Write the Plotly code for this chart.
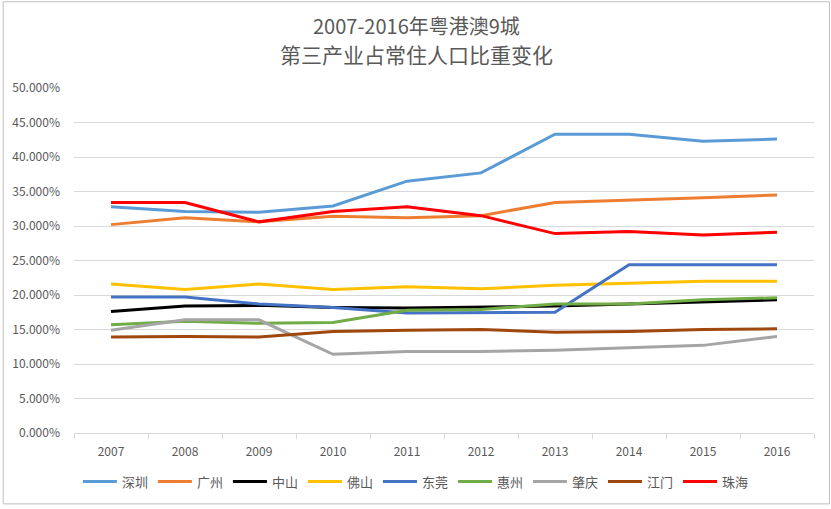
import plotly.graph_objects as go

years = ["2007", "2008", "2009", "2010", "2011", "2012", "2013", "2014", "2015", "2016"]
names = ["深圳", "广州", "中山", "佛山", "东莞", "惠州", "肇庆", "江门", "珠海"]
colors = ["#5B9BD5", "#ED7D31", "#000000", "#FFC000", "#4472C4", "#70AD47", "#A5A5A5", "#9E480E", "#FF0000"]

shenzhen = [32.8, 32.1, 32.0, 32.9, 36.5, 37.7, 43.3, 43.3, 42.3, 42.6]
guangzhou = [30.2, 31.2, 30.6, 31.4, 31.2, 31.5, 33.4, 33.7, 34.1, 34.5]
zhongshan = [17.6, 18.4, 18.5, 18.2, 18.1, 18.2, 18.4, 18.7, 19.0, 19.3]
foshan = [21.6, 20.8, 21.6, 20.8, 21.2, 20.9, 21.4, 21.7, 22.0, 22.0]
dongguan = [19.7, 19.7, 18.7, 18.2, 17.4, 17.5, 17.5, 24.4, 24.4, 24.4]
huizhou = [15.7, 16.2, 15.9, 16.0, 17.8, 17.9, 18.7, 18.7, 19.3, 19.6]
zhaoqing = [14.9, 16.4, 16.4, 11.4, 11.8, 11.8, 12.0, 12.4, 12.7, 14.0]
jiangmen = [13.9, 14.0, 13.9, 14.7, 14.9, 15.0, 14.6, 14.7, 15.0, 15.1]
zhuhai = [33.4, 33.4, 30.6, 32.1, 32.8, 31.5, 28.9, 29.2, 28.7, 29.1]

series = [shenzhen, guangzhou, zhongshan, foshan, dongguan, huizhou, zhaoqing, jiangmen, zhuhai]

title_lines = ["2007-2016年粤港澳9城", "第三产业占常住人口比重变化"]
title_sizes = [20, 21]

fig = go.Figure()
for n, c, vals in zip(names, colors, series):
    fig.add_trace(go.Scatter(
        x=years, y=[v / 100 for v in vals], name=n, mode="lines",
        line=dict(color=c, width=3),
    ))

W, H = 831, 509
ml, mr, mt, mb = 72, 17, 88, 73
pw, ph = W - ml - mr, H - mt - mb

title_y_px = [25, 54]
annotations = []
for t, ypx, fs in zip(title_lines, title_y_px, title_sizes):
    annotations.append(dict(
        text=t, xref="paper", yref="paper", x=(W / 2 - ml) / pw, xanchor="center",
        y=1 + (mt - ypx) / ph, yanchor="middle", showarrow=False,
        font=dict(size=fs, color="#595959"),
    ))

fig.update_layout(
    width=W, height=H,
    margin=dict(l=ml, r=mr, t=mt, b=mb),
    paper_bgcolor="white", plot_bgcolor="white",
    font=dict(family="Noto Sans CJK SC, Open Sans, sans-serif", color="#595959", size=12),
    annotations=annotations,
    showlegend=True,
    legend=dict(orientation="h", x=0.462, xanchor="center", y=-(485 - (H - mb)) / ph, yanchor="middle",
                font=dict(size=13, color="#595959"), itemwidth=34, tracegroupgap=0),
    xaxis=dict(type="category", range=[-0.5, 9.5], showgrid=False, showline=True,
               linecolor="#D9D9D9", linewidth=1,
               ticks="outside", tickson="boundaries", ticklen=5, tickcolor="#D9D9D9",
               ticklabelstandoff=8,
               tickfont=dict(size=12, color="#595959"), zeroline=False),
    yaxis=dict(range=[0, 0.5], dtick=0.05, tickformat=".3%", showgrid=True, gridcolor="#D9D9D9",
               gridwidth=1, zeroline=False, showline=False, ticks="", ticklabelstandoff=13,
               tickfont=dict(size=12, color="#595959")),
    hovermode=False,
)

fig.add_shape(type="rect", xref="paper", yref="paper",
              x0=-(ml - 1) / pw, x1=1 + (mr - 1.5) / pw,
              y0=-(mb - 1.5) / ph, y1=1 + (mt - 1) / ph,
              line=dict(color="#BFBFBF", width=1), fillcolor="rgba(0,0,0,0)", layer="below")

fig.write_html("out.html", config={"displayModeBar": False},
               post_script="document.body.style.margin='0';")
